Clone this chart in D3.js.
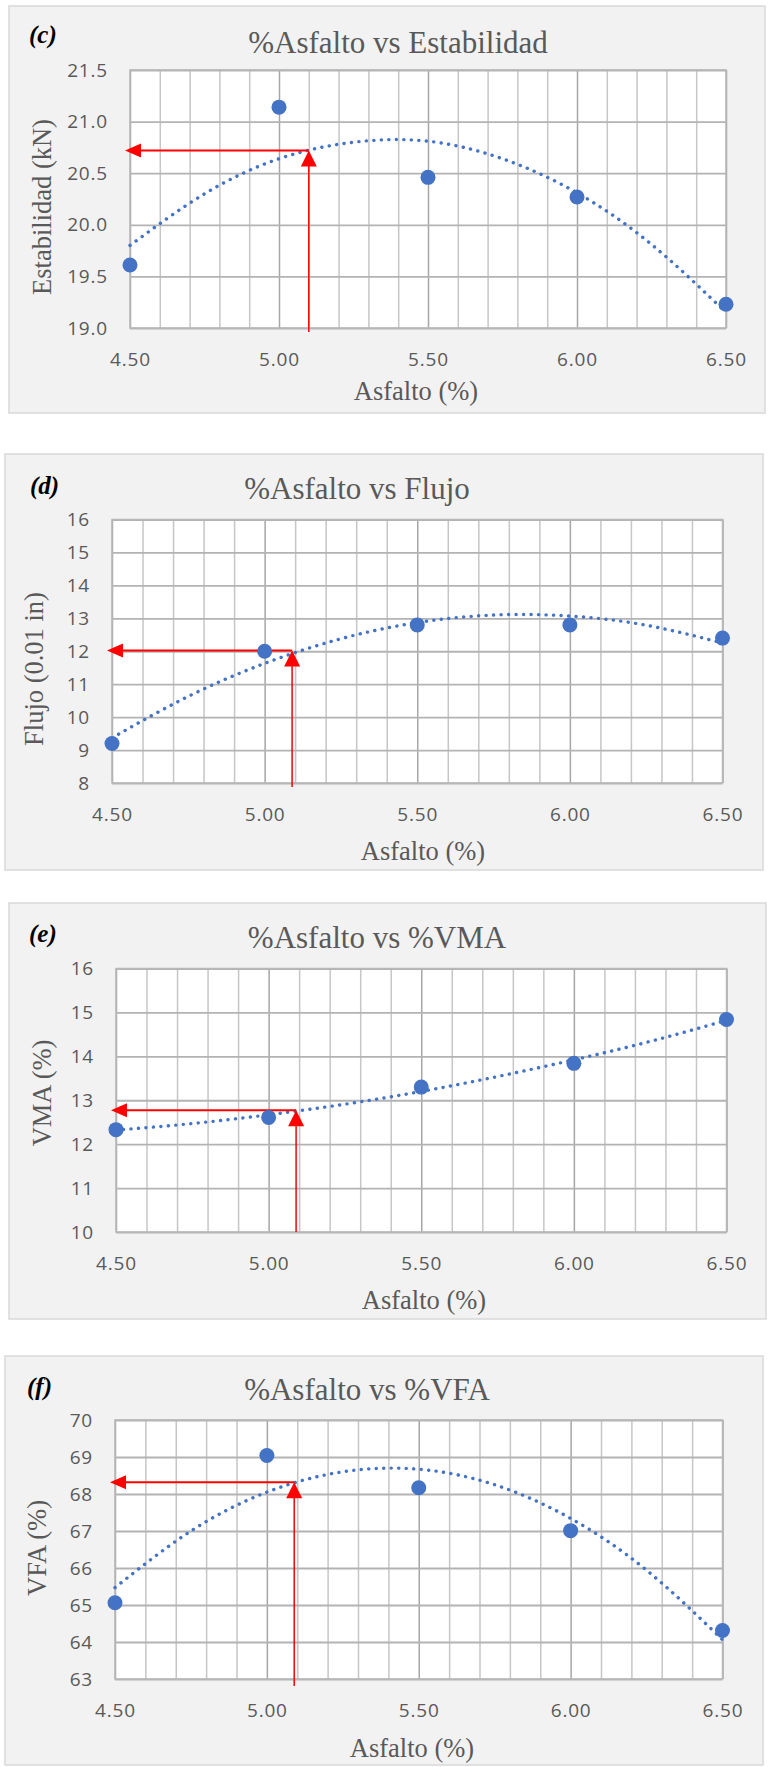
<!DOCTYPE html>
<html lang="es">
<head>
<meta charset="utf-8">
<title>%Asfalto - Marshall</title>
<script src="https://d3js.org/d3.v7.min.js"></script>
<style>
  html, body { margin: 0; padding: 0; background: #fff; }
  .tick-lbl text { font-family: "Open Sans", sans-serif; font-size: 19px; fill: #595959; letter-spacing: 0.8px; }
  .serif { font-family: "Liberation Serif", "Times New Roman", serif; fill: #595959; }
</style>
</head>
<body>
<div id="chart"></div>
<script>
// ---- data ----
var asfalto = [4.5, 5.0, 5.5, 6.0, 6.5];
var trendX = [4.5, 4.75, 5.0, 5.25, 5.5, 5.75, 6.0, 6.25, 6.5];

var estabilidad      = [19.61, 21.14, 20.46, 20.27, 19.23];
var estabilidadTrend = [19.80, 20.30, 20.64, 20.80, 20.81, 20.64, 20.31, 19.81, 19.15];

var flujo      = [9.2, 12.0, 12.8, 12.8, 12.4];
var flujoTrend = [9.37, 10.63, 11.63, 12.38, 12.87, 13.10, 13.07, 12.79, 12.25];

var vma      = [12.33, 12.61, 13.30, 13.84, 14.84];
var vmaTrend = [12.32, 12.47, 12.67, 12.91, 13.20, 13.54, 13.92, 14.34, 14.82];

var vfa      = [65.06, 69.04, 68.17, 67.01, 64.31];
var vfaTrend = [65.47, 67.00, 68.05, 68.60, 68.67, 68.25, 67.34, 65.94, 64.06];

var panelTags   = ["(c)", "(d)", "(e)", "(f)"];
var chartTitles = ["%Asfalto vs Estabilidad", "%Asfalto vs Flujo", "%Asfalto vs %VMA", "%Asfalto vs %VFA"];
var yTitles     = ["Estabilidad (kN)", "Flujo (0.01 in)", "VMA (%)", "VFA (%)"];
var xTitle      = "Asfalto (%)";

var yDomains = [[19, 21.5], [8, 16], [10, 16], [63, 70]];
var yTicks = [
  [19.0, 19.5, 20.0, 20.5, 21.0, 21.5],
  [8, 9, 10, 11, 12, 13, 14, 15, 16],
  [10, 11, 12, 13, 14, 15, 16],
  [63, 64, 65, 66, 67, 68, 69, 70]
];
var yFormats = [".1f", "d", "d", "d"];
var xTicks = [4.5, 5.0, 5.5, 6.0, 6.5];
var xMinorStep = 0.1;

// optimum asphalt content marked with the red arrows
var optimoX = [5.10, 5.09, 5.09, 5.09];
var optimoY = [20.72, 12.02, 12.77, 68.32];

// ---- layout (pixels) ----
var layout = [
  { box: [9, 6, 765, 413],     plot: [130, 70, 726, 328],        tag: [29, 43],    title: [398, 53],     xt: [416, 391],   yt: [42, 207],    ext: 4 },
  { box: [5, 454, 763, 870],   plot: [112, 519.5, 722.5, 783],   tag: [30, 494],   title: [357, 499],    xt: [423, 851],   yt: [34, 669],    ext: 4 },
  { box: [9, 903, 766, 1319],  plot: [116, 968.5, 726.5, 1232],  tag: [29, 942],   title: [377, 948],    xt: [424, 1300],  yt: [42, 1093],   ext: 0 },
  { box: [5, 1356, 763, 1765], plot: [115, 1420, 722.5, 1679],   tag: [27, 1395],  title: [367, 1400],   xt: [412, 1748],  yt: [37, 1548],   ext: 7 }
];

var seriesList = [[estabilidad, estabilidadTrend], [flujo, flujoTrend], [vma, vmaTrend], [vfa, vfaTrend]];

var blue = "#4472C4", red = "#FF0000";

var svg = d3.select("#chart").append("svg")
  .attr("width", 768)
  .attr("height", 1767);

layout.forEach(function(L, i) {
  var g = svg.append("g");
  var px0 = L.plot[0], py0 = L.plot[1], px1 = L.plot[2], py1 = L.plot[3];

  var x = d3.scaleLinear().domain([4.5, 6.5]).range([px0, px1]);
  var y = d3.scaleLinear().domain(yDomains[i]).range([py1, py0]);

  // chart area
  g.append("rect")
    .attr("x", L.box[0]).attr("y", L.box[1])
    .attr("width", L.box[2] - L.box[0]).attr("height", L.box[3] - L.box[1])
    .attr("fill", "#f2f2f2").attr("stroke", "#d9d9d9").attr("stroke-width", 1.5);

  g.append("rect")
    .attr("x", px0).attr("y", py0)
    .attr("width", px1 - px0).attr("height", py1 - py0)
    .attr("fill", "#fff");

  // vertical gridlines (every 0.1)
  var nMinor = Math.round((6.5 - 4.5) / xMinorStep);
  var xGrid = d3.range(nMinor + 1).map(function(k) { return 4.5 + k * xMinorStep; });
  g.append("g")
    .attr("transform", "translate(0," + py1 + ")")
    .call(d3.axisBottom(x).tickValues(xGrid).tickSize(-(py1 - py0)).tickFormat(""))
    .call(function(s) { s.select(".domain").remove(); })
    .selectAll("line")
    .attr("stroke", function(d) {
      var k = (d - 4.5) / 0.5;
      return Math.abs(k - Math.round(k)) < 1e-6 ? "#a6a6a6" : "#c6c6c6";
    })
    .attr("stroke-width", 1.5);

  // horizontal gridlines
  g.append("g")
    .attr("transform", "translate(" + px0 + ",0)")
    .call(d3.axisLeft(y).tickValues(yTicks[i]).tickSize(-(px1 - px0)).tickFormat(""))
    .call(function(s) { s.select(".domain").remove(); })
    .selectAll("line")
    .attr("stroke", "#b3b3b3")
    .attr("stroke-width", 1.8);

  g.append("rect")
    .attr("x", px0).attr("y", py0)
    .attr("width", px1 - px0).attr("height", py1 - py0)
    .attr("fill", "none").attr("stroke", "#b8b8b8").attr("stroke-width", 1.5);

  // axis labels
  var xAxis = g.append("g")
    .attr("class", "tick-lbl")
    .attr("transform", "translate(0," + py1 + ")")
    .call(d3.axisBottom(x).tickValues(xTicks).tickSize(0).tickPadding(24.5).tickFormat(d3.format(".2f")));
  xAxis.select(".domain").remove();
  xAxis.selectAll("text").attr("font-family", null).attr("font-size", null).attr("fill", null);

  var yAxis = g.append("g")
    .attr("class", "tick-lbl")
    .attr("transform", "translate(" + px0 + ",0)")
    .call(d3.axisLeft(y).tickValues(yTicks[i]).tickSize(0).tickPadding(22).tickFormat(d3.format(yFormats[i])));
  yAxis.select(".domain").remove();
  yAxis.selectAll("text").attr("font-family", null).attr("font-size", null).attr("fill", null);

  // polynomial trendline (dotted)
  var trend = seriesList[i][1];
  var line = d3.line()
    .x(function(d, k) { return x(trendX[k]); })
    .y(function(d) { return y(d); })
    .curve(d3.curveNatural);
  g.append("path")
    .datum(trend)
    .attr("d", line)
    .attr("fill", "none")
    .attr("stroke", blue)
    .attr("stroke-width", 3.4)
    .attr("stroke-linecap", "round")
    .attr("stroke-dasharray", "0.1 7.4");

  // red arrows
  var ax = x(optimoX[i]), ay = y(optimoY[i]);
  var tipX = px0 - 5;
  g.append("line")
    .attr("x1", ax).attr("y1", ay).attr("x2", tipX + 10).attr("y2", ay)
    .attr("stroke", red).attr("stroke-width", 2);
  g.append("path")
    .attr("d", "M" + tipX + "," + ay + "L" + (tipX + 16) + "," + (ay - 7) + "L" + (tipX + 16) + "," + (ay + 7) + "Z")
    .attr("fill", red);
  g.append("line")
    .attr("x1", ax).attr("y1", py1 + L.ext).attr("x2", ax).attr("y2", ay + 10)
    .attr("stroke", red).attr("stroke-width", 1.5);
  g.append("path")
    .attr("d", "M" + ax + "," + ay + "L" + (ax - 8) + "," + (ay + 16) + "L" + (ax + 8) + "," + (ay + 16) + "Z")
    .attr("fill", red);

  // data points
  g.selectAll("circle.pt")
    .data(seriesList[i][0])
    .enter()
    .append("circle")
    .attr("class", "pt")
    .attr("cx", function(d, k) { return x(asfalto[k]); })
    .attr("cy", function(d) { return y(d); })
    .attr("r", 7.5)
    .attr("fill", blue);

  // texts
  g.append("text")
    .attr("x", L.tag[0]).attr("y", L.tag[1])
    .attr("font-family", "Liberation Serif, serif")
    .attr("font-size", 25)
    .attr("font-weight", "bold")
    .attr("font-style", "italic")
    .attr("fill", "#000")
    .text(panelTags[i]);

  g.append("text")
    .attr("class", "serif")
    .attr("x", L.title[0]).attr("y", L.title[1])
    .attr("text-anchor", "middle")
    .attr("font-size", 31)
    .text(chartTitles[i]);

  g.append("text")
    .attr("class", "serif")
    .attr("x", L.xt[0]).attr("y", L.xt[1])
    .attr("text-anchor", "middle")
    .attr("dominant-baseline", "central")
    .attr("font-size", 26.5)
    .text(xTitle);

  g.append("text")
    .attr("class", "serif")
    .attr("transform", "translate(" + L.yt[0] + "," + L.yt[1] + ") rotate(-90)")
    .attr("text-anchor", "middle")
    .attr("dominant-baseline", "central")
    .attr("font-size", 26.5)
    .text(yTitles[i]);
});
</script>
</body>
</html>
